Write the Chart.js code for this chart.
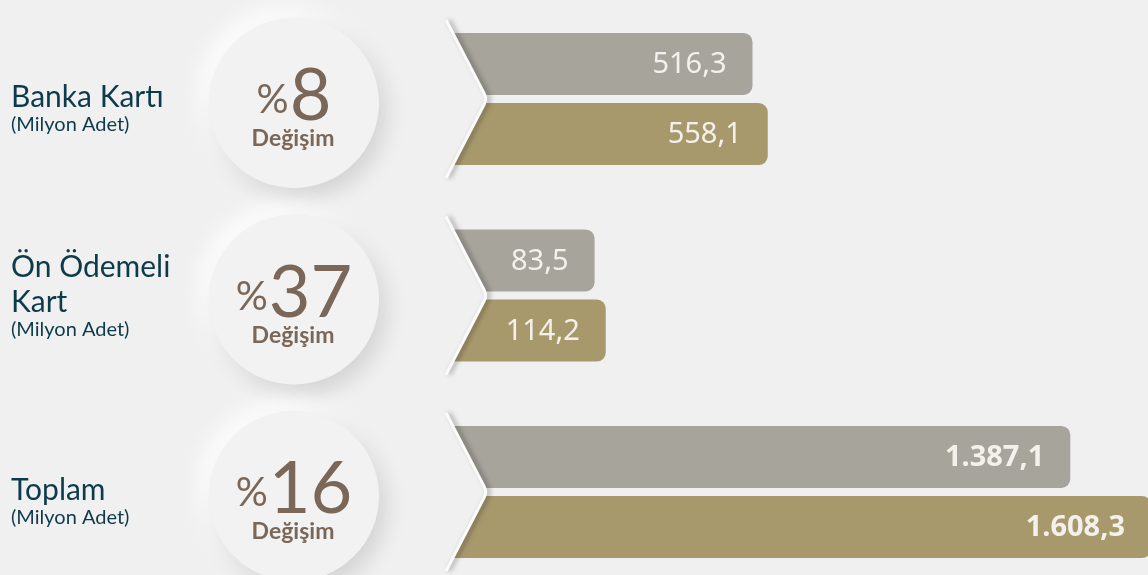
<!DOCTYPE html>
<html lang="tr">
<head>
<meta charset="UTF-8">
<title>Kart Sayıları</title>
<script src="https://cdn.jsdelivr.net/npm/chart.js"></script>
<style>
  html, body { margin: 0; padding: 0; width: 100%; height: 100%; overflow: hidden; background: #f0f0f0; }
  #wrap { position: relative; width: 1148px; height: 575px; }
</style>
</head>
<body>
<div id="wrap"><canvas id="kartChart"></canvas></div>
<script>
const categories = [['Banka Kartı'], ['Ön Ödemeli', 'Kart'], ['Toplam']];
const unitLabel = '(Milyon Adet)';
const previousValues = [516.3, 83.5, 1387.1];
const currentValues = [558.1, 114.2, 1608.3];
const changePercent = [8, 37, 16];
const changeLabel = 'Değişim';

const BG = '#f0f0f0';
const X_MIN = -340;

function formatTr(v) {
  const parts = v.toFixed(1).split('.');
  return parts[0].replace(/\B(?=(\d{3})+(?!\d))/g, '.') + ',' + parts[1];
}

const decor = {
  id: 'decor',
  beforeDatasetsDraw(chart) {
    const ctx = chart.ctx;
    const y = chart.scales.y;
    categories.forEach((lines, i) => {
      const yc = y.getPixelForValue(i);

      // left labels
      ctx.save();
      ctx.fillStyle = '#0d3b4b';
      ctx.textAlign = 'left';
      ctx.textBaseline = 'alphabetic';
      ctx.font = '30px Lato';
      let b = yc + 8 - 27 * (lines.length - 1);
      lines.forEach((t, k) => ctx.fillText(t, 11, b + k * 35));
      ctx.font = '20px Lato';
      ctx.fillText(unitLabel, 11, b + (lines.length - 1) * 35 + 24);
      ctx.restore();

      // neumorphic circle
      const cx = 294, cy = yc + 4, r = 85;
      ctx.save();
      ctx.fillStyle = '#f2f2f2';
      ctx.shadowColor = 'rgba(255,255,255,0.95)';
      ctx.shadowBlur = 22;
      ctx.shadowOffsetX = -9;
      ctx.shadowOffsetY = -9;
      ctx.beginPath(); ctx.arc(cx, cy, r, 0, Math.PI * 2); ctx.fill();
      ctx.shadowColor = 'rgba(0,0,0,0.13)';
      ctx.shadowBlur = 22;
      ctx.shadowOffsetX = 7;
      ctx.shadowOffsetY = 9;
      ctx.beginPath(); ctx.arc(cx, cy, r, 0, Math.PI * 2); ctx.fill();
      ctx.restore();

      // circle texts
      ctx.save();
      ctx.fillStyle = '#7b6757';
      ctx.textBaseline = 'alphabetic';
      ctx.textAlign = 'left';
      const num = String(changePercent[i]);
      ctx.font = '40px Lato';
      const wp = ctx.measureText('%').width;
      ctx.font = '72px Lato';
      const wn = ctx.measureText(num).width;
      const start = cx - (wp + 1 + wn) / 2;
      ctx.font = '40px Lato';
      ctx.fillText('%', start, cy + 10);
      ctx.font = '72px Lato';
      ctx.fillText(num, start + wp + 1, cy + 17);
      ctx.font = 'bold 23px Lato';
      ctx.textAlign = 'center';
      ctx.fillText(changeLabel, cx - 1, cy + 43);
      ctx.restore();
    });
  },
  afterDatasetsDraw(chart) {
    const ctx = chart.ctx;
    const area = chart.chartArea;
    const y = chart.scales.y;

    // chevron notch on the left of each bar pair
    categories.forEach((lines, i) => {
      const yc = y.getPixelForValue(i);
      const half = 79;
      const xTop = area.left + 6, xTip = area.left + 47;
      ctx.save();
      ctx.fillStyle = BG;
      ctx.beginPath();
      ctx.moveTo(area.left - 5, yc - half);
      ctx.lineTo(xTop, yc - half);
      ctx.arcTo(xTip, yc, xTop, yc + half, 12);
      ctx.lineTo(xTop, yc + half);
      ctx.lineTo(area.left - 5, yc + half);
      ctx.closePath();
      ctx.fill();
      ctx.strokeStyle = '#fbfbfb';
      ctx.lineWidth = 3;
      ctx.shadowColor = 'rgba(0,0,0,0.35)';
      ctx.shadowBlur = 5;
      ctx.shadowOffsetX = 3;
      ctx.beginPath();
      ctx.moveTo(xTop, yc - half);
      ctx.arcTo(xTip, yc, xTop, yc + half, 12);
      ctx.lineTo(xTop, yc + half);
      ctx.stroke();
      ctx.restore();
    });

    // value labels inside bars
    ctx.save();
    ctx.fillStyle = '#f4f1ec';
    ctx.textAlign = 'right';
    ctx.textBaseline = 'middle';
    chart.data.datasets.forEach((ds, d) => {
      chart.getDatasetMeta(d).data.forEach((bar, i) => {
        ctx.font = (i === categories.length - 1 ? 'bold ' : '') + '29px "Noto Sans"';
        ctx.fillText(formatTr(ds.data[i]), bar.x - 26, bar.y + 1);
      });
    });
    ctx.restore();
  }
};

new Chart(document.getElementById('kartChart'), {
  type: 'bar',
  data: {
    labels: categories,
    datasets: [
      { label: 'Önceki Dönem', data: previousValues, backgroundColor: '#a6a49b' },
      { label: 'Cari Dönem', data: currentValues, backgroundColor: '#a8996d' }
    ]
  },
  options: {
    indexAxis: 'y',
    responsive: true,
    maintainAspectRatio: false,
    animation: false,
    layout: { padding: { left: 440, right: 0, top: 99, bottom: 83 } },
    datasets: {
      bar: {
        base: X_MIN,
        clip: false,
        borderRadius: { topRight: 9, bottomRight: 9 },
        borderSkipped: 'start',
        categoryPercentage: 0.7125,
        barPercentage: 0.886
      }
    },
    scales: {
      x: { type: 'linear', min: X_MIN, max: 1600, display: false },
      y: { type: 'category', offset: false, display: false }
    },
    plugins: {
      legend: { display: false },
      tooltip: { enabled: false }
    }
  },
  plugins: [decor]
});
</script>
</body>
</html>
